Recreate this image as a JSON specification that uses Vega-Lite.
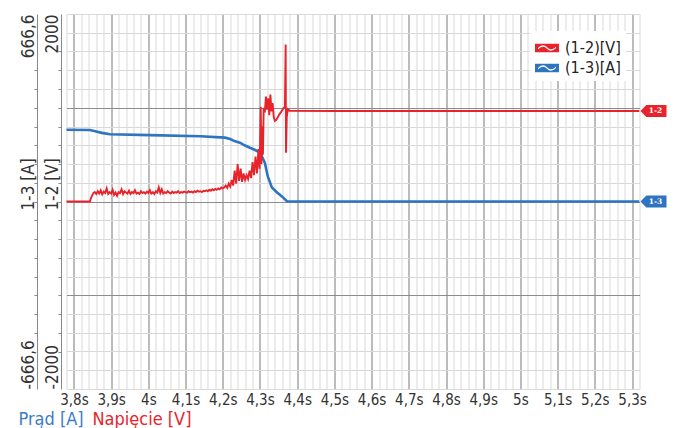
{
  "$schema": "https://vega.github.io/schema/vega-lite/v6.json",
  "width": 573,
  "height": 375,
  "autosize": {"type": "none"},
  "padding": {"left": 66.5, "top": 14, "right": 34.5, "bottom": 39},
  "background": "white",
  "config": {"view": {"stroke": null}, "font": "'DejaVu Sans Condensed', 'Liberation Sans', sans-serif"},
  "datasets": {
    "blue": [
      {"t": 3.778, "a": 255}, {"t": 3.843, "a": 254}, {"t": 3.86, "a": 249}, {"t": 3.875, "a": 244},
      {"t": 3.897, "a": 239}, {"t": 4.004, "a": 236}, {"t": 4.139, "a": 232}, {"t": 4.206, "a": 227},
      {"t": 4.22, "a": 222}, {"t": 4.233, "a": 214}, {"t": 4.246, "a": 209}, {"t": 4.26, "a": 199},
      {"t": 4.273, "a": 191}, {"t": 4.287, "a": 183}, {"t": 4.3, "a": 174}, {"t": 4.313, "a": 138},
      {"t": 4.321, "a": 89}, {"t": 4.332, "a": 50}, {"t": 4.346, "a": 32}, {"t": 4.359, "a": 18},
      {"t": 4.373, "a": 0}, {"t": 5.32, "a": 0}
    ],
    "red": [
      {"t": 3.778, "v": 0}, {"t": 3.843, "v": 0}, {"t": 3.846, "v": 40}, {"t": 3.852, "v": 90},
      {"t": 3.856, "v": 100}, {"t": 3.86, "v": 80}, {"t": 3.864, "v": 110}, {"t": 3.868, "v": 85},
      {"t": 3.872, "v": 120}, {"t": 3.876, "v": 75}, {"t": 3.88, "v": 105}, {"t": 3.884, "v": 90},
      {"t": 3.888, "v": 140}, {"t": 3.892, "v": 80}, {"t": 3.896, "v": 100}, {"t": 3.9, "v": 85},
      {"t": 3.904, "v": 125}, {"t": 3.908, "v": 70}, {"t": 3.912, "v": 95}, {"t": 3.916, "v": 60},
      {"t": 3.92, "v": 100}, {"t": 3.924, "v": 90}, {"t": 3.928, "v": 130}, {"t": 3.932, "v": 80},
      {"t": 3.936, "v": 110}, {"t": 3.94, "v": 95}, {"t": 3.944, "v": 85}, {"t": 3.948, "v": 115},
      {"t": 3.952, "v": 80}, {"t": 3.956, "v": 100}, {"t": 3.96, "v": 90}, {"t": 3.964, "v": 120},
      {"t": 3.968, "v": 85}, {"t": 3.972, "v": 95}, {"t": 3.976, "v": 80}, {"t": 3.98, "v": 110},
      {"t": 3.984, "v": 90}, {"t": 3.988, "v": 100}, {"t": 3.992, "v": 85}, {"t": 3.996, "v": 105},
      {"t": 4.0, "v": 90}, {"t": 4.004, "v": 120}, {"t": 4.008, "v": 85}, {"t": 4.012, "v": 100},
      {"t": 4.016, "v": 80}, {"t": 4.02, "v": 110}, {"t": 4.024, "v": 95}, {"t": 4.028, "v": 150},
      {"t": 4.032, "v": 90}, {"t": 4.036, "v": 130}, {"t": 4.04, "v": 85}, {"t": 4.044, "v": 100},
      {"t": 4.048, "v": 90}, {"t": 4.052, "v": 110}, {"t": 4.056, "v": 95}, {"t": 4.06, "v": 85},
      {"t": 4.064, "v": 105}, {"t": 4.068, "v": 90}, {"t": 4.072, "v": 100}, {"t": 4.076, "v": 95},
      {"t": 4.08, "v": 110}, {"t": 4.084, "v": 90}, {"t": 4.088, "v": 100}, {"t": 4.092, "v": 95},
      {"t": 4.096, "v": 105}, {"t": 4.1, "v": 100}, {"t": 4.104, "v": 95}, {"t": 4.108, "v": 110},
      {"t": 4.112, "v": 100}, {"t": 4.116, "v": 105}, {"t": 4.12, "v": 95}, {"t": 4.124, "v": 110},
      {"t": 4.128, "v": 100}, {"t": 4.132, "v": 115}, {"t": 4.136, "v": 105}, {"t": 4.14, "v": 110},
      {"t": 4.144, "v": 100}, {"t": 4.148, "v": 115}, {"t": 4.152, "v": 110}, {"t": 4.156, "v": 120},
      {"t": 4.16, "v": 110}, {"t": 4.164, "v": 125}, {"t": 4.168, "v": 115}, {"t": 4.172, "v": 130},
      {"t": 4.176, "v": 120}, {"t": 4.18, "v": 135}, {"t": 4.184, "v": 125}, {"t": 4.188, "v": 140},
      {"t": 4.192, "v": 130}, {"t": 4.196, "v": 150}, {"t": 4.2, "v": 140}, {"t": 4.204, "v": 150},
      {"t": 4.208, "v": 170}, {"t": 4.212, "v": 145}, {"t": 4.216, "v": 190}, {"t": 4.22, "v": 160},
      {"t": 4.224, "v": 230}, {"t": 4.228, "v": 170}, {"t": 4.232, "v": 330}, {"t": 4.236, "v": 190},
      {"t": 4.24, "v": 400}, {"t": 4.244, "v": 220}, {"t": 4.248, "v": 350}, {"t": 4.252, "v": 210},
      {"t": 4.256, "v": 300}, {"t": 4.26, "v": 230}, {"t": 4.264, "v": 280}, {"t": 4.268, "v": 240},
      {"t": 4.272, "v": 330}, {"t": 4.276, "v": 250}, {"t": 4.28, "v": 420}, {"t": 4.284, "v": 280},
      {"t": 4.288, "v": 480}, {"t": 4.292, "v": 300}, {"t": 4.296, "v": 560}, {"t": 4.299, "v": 350},
      {"t": 4.302, "v": 1010}, {"t": 4.304, "v": 400}, {"t": 4.306, "v": 800}, {"t": 4.308, "v": 500},
      {"t": 4.31, "v": 1000}, {"t": 4.313, "v": 950}, {"t": 4.316, "v": 1120}, {"t": 4.319, "v": 980},
      {"t": 4.322, "v": 1100}, {"t": 4.325, "v": 920}, {"t": 4.328, "v": 1140}, {"t": 4.331, "v": 960},
      {"t": 4.334, "v": 1050}, {"t": 4.337, "v": 900}, {"t": 4.34, "v": 860}, {"t": 4.344, "v": 870},
      {"t": 4.348, "v": 900}, {"t": 4.352, "v": 930}, {"t": 4.356, "v": 950}, {"t": 4.36, "v": 975},
      {"t": 4.364, "v": 1000}, {"t": 4.367, "v": 1010}, {"t": 4.369, "v": 1675}, {"t": 4.37, "v": 520},
      {"t": 4.372, "v": 900}, {"t": 4.375, "v": 985}, {"t": 4.38, "v": 968}, {"t": 4.5, "v": 966},
      {"t": 5.32, "v": 965}
    ]
  },
  "layer": [
    {
      "layer": [
        {
          "data": {"name": "blue"},
          "mark": {"type": "line", "strokeWidth": 2.6, "clip": true},
          "encoding": {
            "x": {
              "field": "t", "type": "quantitative",
              "scale": {"domain": [3.78, 5.32], "nice": false, "zero": false},
              "axis": {
                "orient": "bottom", "tickCount": 1000,
                "values": [3.78,3.8,3.82,3.84,3.86,3.88,3.9,3.92,3.94,3.96,3.98,4,4.02,4.04,4.06,4.08,4.1,4.12,4.14,4.16,4.18,4.2,4.22,4.24,4.26,4.28,4.3,4.32,4.34,4.36,4.38,4.4,4.42,4.44,4.46,4.48,4.5,4.52,4.54,4.56,4.58,4.6,4.62,4.64,4.66,4.68,4.7,4.72,4.74,4.76,4.78,4.8,4.82,4.84,4.86,4.88,4.9,4.92,4.94,4.96,4.98,5,5.02,5.04,5.06,5.08,5.1,5.12,5.14,5.16,5.18,5.2,5.22,5.24,5.26,5.28,5.3,5.32],
                "grid": true, "gridColor": "#d9d9d9", "gridWidth": 1,
                "labels": false, "ticks": false, "domain": false,
                "title": "Prąd [A]", "titleColor": "#3a7cc6", "titleFontSize": 18, "titleFontWeight": "normal",
                "titleX": -48.5, "titleY": 35, "titleAlign": "left", "titleBaseline": "alphabetic"
              }
            },
            "y": {
              "field": "a", "type": "quantitative",
              "scale": {"domain": [-666.6, 666.6], "nice": false, "zero": false},
              "axis": {
                "orient": "left", "offset": 29.5, "tickCount": 1000,
                "values": [-666.6,-599.94,-533.28,-466.62,-399.96,-333.3,-266.64,-199.98,-133.32,-66.66,0,66.66,133.32,199.98,266.64,333.3,399.96,466.62,533.28,599.94,666.6],
                "domainColor": "#888", "tickColor": "#888", "tickSize": 3,
                "tickOpacity": {"condition": {"test": "abs(datum.value) > 500", "value": 0}, "value": 1},
                "grid": true,
                "gridColor": {"condition": {"test": "abs(datum.value) < 1 || abs(abs(datum.value) - 333.3) < 1", "value": "#8c8c8c"}, "value": "#d9d9d9"},
                "labelExpr": "datum.value > 600 ? '666,6' : (datum.value < -600 ? '-666,6' : '')",
                "labelAngle": -90,
                "labelAlign": {"condition": {"test": "datum.value > 0", "value": "right"}, "value": "left"},
                "labelBaseline": "alphabetic", "labelPadding": 1, "labelFontSize": 17, "labelColor": "#333",
                "labelFlush": false, "labelOverlap": false, "labelBound": false,
                "title": "1-3 [A]", "titleAngle": -90, "titleX": -4, "titleY": 170, "titleAlign": "center",
                "titleBaseline": "alphabetic", "titleFontSize": 17, "titleFontWeight": "normal", "titleColor": "#333"
              }
            },
            "color": {
              "datum": "(1-3)[A]",
              "scale": {"domain": ["(1-2)[V]", "(1-3)[A]"], "range": ["#e8232b", "#2f74c0"]},
              "legend": {
                "orient": "none", "legendX": 463.5, "legendY": 17, "title": null,
                "fillColor": "white", "padding": 5, "rowPadding": -1,
                "symbolType": "M-1,-0.36 H1 V0.36 H-1 Z M-0.75,0.11 C-0.4,-0.19 -0.2,-0.14 0,0.06 C0.2,0.26 0.4,0.31 0.75,0.01 L0.75,-0.11 C0.4,0.19 0.2,0.14 0,-0.06 C-0.2,-0.26 -0.4,-0.31 -0.75,-0.01 Z",
                "symbolSize": 576, "symbolStrokeWidth": 0,
                "labelFontSize": 16, "labelColor": "#222", "labelOffset": 6,
                "encode": {"symbols": {"update": {"fill": {"scale": "color", "field": "value"}, "stroke": {"value": "transparent"}, "opacity": {"value": 1}}}}
              }
            }
          }
        },
        {
          "data": {"values": [{"t": 5.32, "a": 0, "lab": "1-3"}]},
          "mark": {"type": "point", "shape": "M-1,0 L-0.55,-0.46 L1,-0.46 L1,0.46 L-0.55,0.46 Z", "size": 676, "filled": true, "opacity": 1, "strokeWidth": 0, "color": "#2f74c0", "xOffset": 14, "clip": false},
          "encoding": {"x": {"field": "t", "type": "quantitative"}, "y": {"field": "a", "type": "quantitative"}}
        },
        {
          "data": {"values": [{"t": 5.32, "a": 0, "lab": "1-3"}]},
          "mark": {"type": "text", "font": "DejaVu Serif", "fontSize": 7.5, "fontWeight": "bold", "color": "white", "xOffset": 16, "align": "center", "baseline": "middle", "clip": false},
          "encoding": {"x": {"field": "t", "type": "quantitative"}, "y": {"field": "a", "type": "quantitative"}, "text": {"field": "lab"}}
        }
      ]
    },
    {
      "layer": [
        {
          "data": {"name": "red"},
          "mark": {"type": "line", "strokeWidth": 1.9, "clip": true},
          "encoding": {
            "x": {
              "field": "t", "type": "quantitative",
              "scale": {"domain": [3.78, 5.32], "nice": false, "zero": false},
              "axis": {
                "orient": "bottom", "tickCount": 1000,
                "values": [3.8,3.9,4,4.1,4.2,4.3,4.4,4.5,4.6,4.7,4.8,4.9,5,5.1,5.2,5.3],
                "grid": true, "gridColor": "#8c8c8c", "gridWidth": 1,
                "ticks": false, "tickSize": 0, "domain": false,
                "labelExpr": "replace(format(datum.value, '.1~f'), '.', ',') + 's'",
                "labelFontSize": 15, "labelColor": "#333", "labelPadding": 3, "labelFlush": false, "labelOverlap": false,
                "title": "Napięcie [V]", "titleColor": "#e8232b", "titleFontSize": 18, "titleFontWeight": "normal",
                "titleX": 25.5, "titleY": 35, "titleAlign": "left", "titleBaseline": "alphabetic"
              }
            },
            "y": {
              "field": "v", "type": "quantitative",
              "scale": {"domain": [-2000, 2000], "nice": false, "zero": false},
              "axis": {
                "orient": "left", "offset": 5.5, "tickCount": 1000,
                "values": [-2000,-1800,-1600,-1400,-1200,-1000,-800,-600,-400,-200,0,200,400,600,800,1000,1200,1400,1600,1800,2000],
                "domainColor": "#888", "tickColor": "#888", "tickSize": 3,
                "tickOpacity": {"condition": {"test": "abs(datum.value) > 1700", "value": 0}, "value": 1},
                "grid": false,
                "labelExpr": "datum.value > 1900 ? '2000' : (datum.value < -1900 ? '-2000' : '')",
                "labelAngle": -90,
                "labelAlign": {"condition": {"test": "datum.value > 0", "value": "right"}, "value": "left"},
                "labelBaseline": "alphabetic", "labelPadding": 1, "labelFontSize": 17, "labelColor": "#333",
                "labelFlush": false, "labelOverlap": false, "labelBound": false,
                "title": "1-2 [V]", "titleAngle": -90, "titleX": -4, "titleY": 170, "titleAlign": "center",
                "titleBaseline": "alphabetic", "titleFontSize": 17, "titleFontWeight": "normal", "titleColor": "#333"
              }
            },
            "color": {"datum": "(1-2)[V]"}
          }
        },
        {
          "data": {"values": [{"t": 5.32, "v": 965, "lab": "1-2"}]},
          "mark": {"type": "point", "shape": "M-1,0 L-0.55,-0.46 L1,-0.46 L1,0.46 L-0.55,0.46 Z", "size": 676, "filled": true, "opacity": 1, "strokeWidth": 0, "color": "#e8232b", "xOffset": 14, "clip": false},
          "encoding": {"x": {"field": "t", "type": "quantitative"}, "y": {"field": "v", "type": "quantitative"}}
        },
        {
          "data": {"values": [{"t": 5.32, "v": 965, "lab": "1-2"}]},
          "mark": {"type": "text", "font": "DejaVu Serif", "fontSize": 7.5, "fontWeight": "bold", "color": "white", "xOffset": 16, "align": "center", "baseline": "middle", "clip": false},
          "encoding": {"x": {"field": "t", "type": "quantitative"}, "y": {"field": "v", "type": "quantitative"}, "text": {"field": "lab"}}
        }
      ]
    }
  ],
  "resolve": {"scale": {"x": "independent", "y": "independent"}}
}
